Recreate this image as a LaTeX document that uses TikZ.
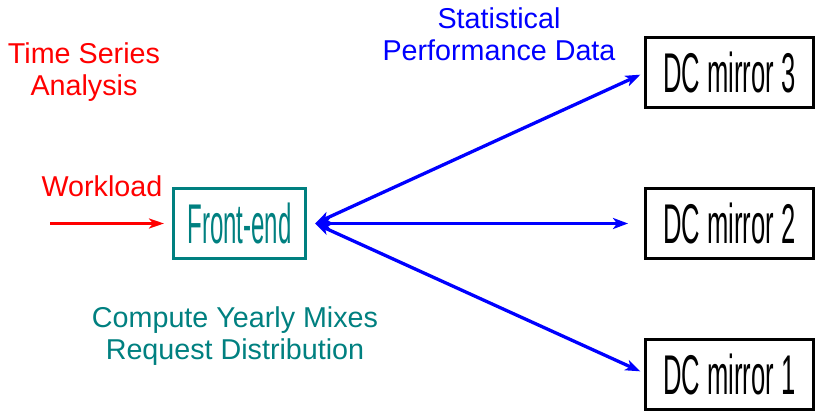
\documentclass[tikz,border=0pt]{standalone}
\usepackage{fontspec}
\setmainfont{Liberation Sans}
\usetikzlibrary{arrows.meta}
\definecolor{tealc}{RGB}{0,128,128}
\definecolor{bluec}{RGB}{0,0,255}
\definecolor{redc}{RGB}{255,0,0}
\begin{document}
\begin{tikzpicture}[x=1pt,y=-1pt,
  lbl/.style={inner sep=0pt,align=center,font=\fontsize{28.7}{32}\selectfont},
  mirror/.style={draw=black,line width=3pt,minimum width=168pt,minimum height=70pt,inner sep=0pt},
  fe/.style={draw=tealc,line width=3pt,minimum width=132pt,minimum height=70pt,inner sep=0pt,text=tealc},
  bigtxt/.style={font=\fontsize{56}{60}\selectfont},
  blink/.style={draw=bluec,line width=3.3pt,{Stealth[length=15pt,width=11pt,inset=4pt]}-{Stealth[length=15pt,width=11pt,inset=4pt]}},
  rlink/.style={draw=redc,line width=3.3pt,-{Stealth[length=15pt,width=10pt,inset=4pt]}}]
\useasboundingbox (0,0) rectangle (817,412);
% boxes
\node[fe,bigtxt] (fe) at (239.5,223.5) {\scalebox{0.43}[1]{Front-end}};
\node[mirror,bigtxt] (m3) at (729.5,72.5) {\scalebox{0.457}[1]{DC mirror 3}};
\node[mirror,bigtxt] (m2) at (729.5,223.5) {\scalebox{0.457}[1]{DC mirror 2}};
\node[mirror,bigtxt] (m1) at (729.5,374.5) {\scalebox{0.457}[1]{DC mirror 1}};
% labels
\node[lbl,text=redc] (tsa) at (84,72) {Time Series\\Analysis};
\node[lbl,text=bluec] (spd) at (499,34) {Statistical\\Performance Data};
\node[lbl,text=redc,anchor=base] (wl) at (102,196) {Workload};
\node[lbl,text=tealc] (cym) at (235,336) {Compute Yearly Mixes\\Request Distribution};
% connectors
\coordinate (fetip) at ([xshift=8pt]fe.east);
\coordinate (wlstart) at (50,223.5);
\draw[rlink,shorten >=8pt] (wlstart) -- (fe.west);
\draw[blink,shorten >=4pt] (fetip) -- (m3.west |- 0,73);
\draw[blink,shorten >=16pt] (fetip) -- (m2.west);
\draw[blink,shorten >=4pt] (fetip) -- (m1.west |- 0,373);
\end{tikzpicture}
\end{document}
